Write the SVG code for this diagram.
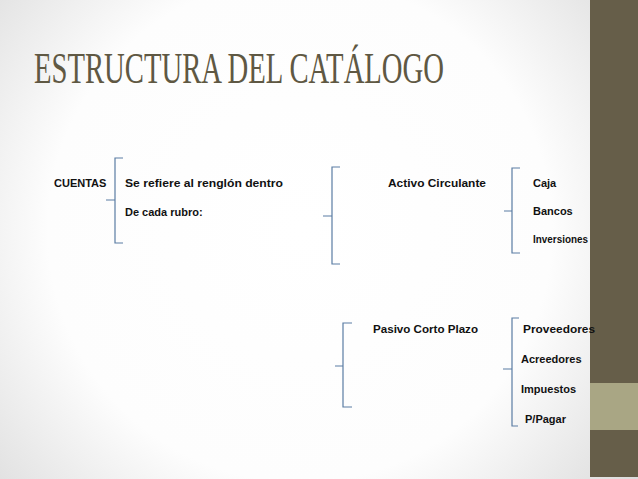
<svg xmlns="http://www.w3.org/2000/svg" width="638" height="479" viewBox="0 0 638 479">
<defs>
<radialGradient id="bg" cx="300" cy="230" r="420" gradientUnits="userSpaceOnUse">
<stop offset="0" stop-color="#ffffff"/>
<stop offset="0.6" stop-color="#fdfdfd"/>
<stop offset="1" stop-color="#dcdcdc"/>
</radialGradient>
<style>
.t{font-family:"Liberation Sans",Arial,sans-serif;font-weight:bold;font-size:11px;fill:#111}
.b{fill:none;stroke:#5a7ca3;stroke-width:1.2}
.title{font-family:"Liberation Serif","Times New Roman",serif;font-size:45px;fill:#5f5843}
</style>
</defs>
<rect width="638" height="479" fill="url(#bg)"/>
<g id="sidebar">
<rect x="590" y="0" width="48" height="477" fill="#665e49"/>
<rect x="590" y="383" width="48" height="47" fill="#a9a684"/>
</g>
<g id="title">
<text class="title" x="34" y="83" textLength="410" lengthAdjust="spacingAndGlyphs">ESTRUCTURA DEL CATÁLOGO</text>
</g>
<g id="connectors">
<path class="b" d="M123,158 H115 V200 H106 H115 V243 H123"/>
<path class="b" d="M340,167 H332 V216 H323 H332 V264 H340"/>
<path class="b" d="M520,168 H512 V211 H504 H512 V253 H520"/>
<path class="b" d="M352,323 H343 V366 H335 H343 V407 H352"/>
<path class="b" d="M519,318 H512 V369 H503 H512 V426 H518"/>
</g>
<g id="cuentas"><text class="t" x="54" y="187">CUENTAS</text></g>
<g id="definicion">
<text class="t" x="125" y="187" textLength="158" lengthAdjust="spacingAndGlyphs">Se refiere al renglón dentro</text>
<text class="t" x="125" y="216">De cada rubro:</text>
</g>
<g id="activo"><text class="t" x="388" y="187" textLength="98" lengthAdjust="spacingAndGlyphs">Activo Circulante</text></g>
<g id="activo-items">
<text class="t" x="533" y="187">Caja</text>
<text class="t" x="533" y="215">Bancos</text>
<text class="t" x="533" y="243" textLength="55" lengthAdjust="spacingAndGlyphs">Inversiones</text>
</g>
<g id="pasivo"><text class="t" x="373" y="333" textLength="105" lengthAdjust="spacingAndGlyphs">Pasivo Corto Plazo</text></g>
<g id="pasivo-items">
<text class="t" x="523" y="333" textLength="72" lengthAdjust="spacingAndGlyphs">Proveedores</text>
<text class="t" x="521" y="363">Acreedores</text>
<text class="t" x="521" y="393">Impuestos</text>
<text class="t" x="525" y="423">P/Pagar</text>
</g>
</svg>
